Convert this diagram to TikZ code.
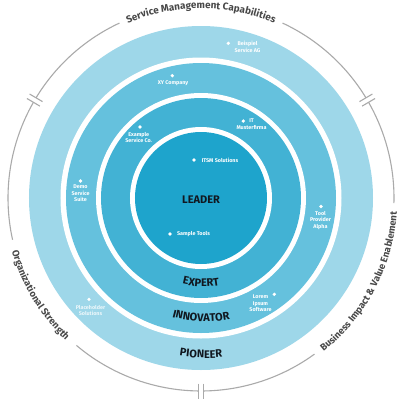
\documentclass[tikz,border=0pt]{standalone}
\usepackage{fontspec}
\setmainfont{Fira Sans}
\usetikzlibrary{decorations.text}
\definecolor{ringP}{RGB}{158,215,233}
\definecolor{ringI}{RGB}{101,193,221}
\definecolor{ringE}{RGB}{66,178,212}
\definecolor{ringL}{RGB}{30,164,204}
\definecolor{arcgray}{RGB}{170,170,170}
\definecolor{txtgray}{RGB}{72,72,72}
\definecolor{lvl}{RGB}{17,24,32}
\tikzset{
  arcline/.style={draw=arcgray, line width=1.1pt},
  tickline/.style={draw=arcgray, line width=1.1pt},
  dotmark/.style={circle, fill=white, inner sep=0pt, minimum size=3.6pt},
  company/.style={text=white, font=\fontsize{5.4}{6.5}\selectfont\bfseries, align=center, inner sep=0pt},
  levellabel/.style={text=lvl, font=\fontsize{11}{12}\selectfont\bfseries, inner sep=0pt},
}
\begin{document}
\begin{tikzpicture}[x=1pt,y=1pt]
\useasboundingbox (-201,-202) rectangle (201,198);
\fill[white] (-201,-202) rectangle (201,198);
% rings
\fill[ringP] (0,0) circle[radius=172];
\fill[white] (0,0) circle[radius=140.5];
\fill[ringI] (0,0) circle[radius=135];
\fill[white] (0,0) circle[radius=105];
\fill[ringE] (0,0) circle[radius=100];
\fill[white] (0,0) circle[radius=71];
\fill[ringL] (0,0) circle[radius=66];
% outer gray arcs
\draw[arcline] (31.3:193) arc[start angle=31.3, end angle=65, radius=193];
\draw[arcline] (115:193) arc[start angle=115, end angle=148.7, radius=193];
\draw[arcline] (150.3:193) arc[start angle=150.3, end angle=192.5, radius=193];
\draw[arcline] (229.8:193) arc[start angle=229.8, end angle=269.2, radius=193];
\draw[arcline] (270.8:193) arc[start angle=270.8, end angle=306, radius=193];
\draw[arcline] (-1.5:193) arc[start angle=-1.5, end angle=29.7, radius=193];
% break ticks
\foreach \a in {30.5,149.5,270}{
  \begin{scope}[rotate=\a]
    \draw[tickline] (185.5,2.6) -- (200.5,2.6);
    \draw[tickline] (185.5,-2.6) -- (200.5,-2.6);
  \end{scope}
}
% arc texts
\path[decorate, decoration={text along path, text align=center, text color=txtgray,
  text={|\fontsize{9.9}{11}\selectfont\bfseries|Service Management Capabilities}}]
  (115:189.5) arc[start angle=115, end angle=65, radius=189.5];
\path[decorate, decoration={text along path, text align=center, text color=txtgray,
  text={|\fontsize{9.6}{11}\selectfont\bfseries|Organizational Strength}}]
  (192.5:196.5) arc[start angle=192.5, end angle=229.8, radius=196.5];
\path[decorate, decoration={text along path, text align=center, text color=txtgray,
  text={|\fontsize{9.6}{11}\selectfont\bfseries|Business Impact {\&} Value Enablement}}]
  (-54:196.5) arc[start angle=-54, end angle=-1.5, radius=196.5];
% level labels
\node[levellabel] (leader) at (0,-2) {LEADER};
\path[decorate, rotate around={-2:(0,-85)}, decoration={text along path, text align=center, text color=lvl,
  text={|\fontsize{11}{12}\selectfont\bfseries|EXPERT}}]
  (240:88.5) arc[start angle=240, end angle=300, radius=88.5];
\path[decorate, rotate around={-2:(0,-120)}, decoration={text along path, text align=center, text color=lvl,
  text={|\fontsize{11}{12}\selectfont\bfseries|INNOVATOR}}]
  (240:123.5) arc[start angle=240, end angle=300, radius=123.5];
\path[decorate, rotate around={-2:(0,-156)}, decoration={text along path, text align=center, text color=lvl,
  text={|\fontsize{11}{12}\selectfont\bfseries|PIONEER}}]
  (245:160) arc[start angle=245, end angle=295, radius=160];
% companies
\node[dotmark] (d1) at (27.3,154.7) {};
\node[company] (c1) at (46.5,151.3) {Beispiel\\Service AG};
\node[dotmark] (d2) at (-28.7,122.3) {};
\node[company] (c2) at (-28,115) {XY Company};
\node[dotmark] (d3) at (42.3,77) {};
\node[company] (c3) at (50.5,74) {IT\\Musterfirma};
\node[dotmark] (d4) at (-61,71) {};
\node[company] (c4) at (-62.3,60.3) {Example\\Service Co.};
\node[dotmark] (d5) at (-120.5,17) {};
\node[company] (c5) at (-120.5,4.5) {Demo\\Service\\Suite};
\node[dotmark] (d6) at (-7,38) {};
\node[company] (c6) at (19,38) {ITSM Solutions};
\node[dotmark] (d7) at (-31,-36) {};
\node[company] (c7) at (-7.5,-36) {Sample Tools};
\node[dotmark] (d8) at (120,-8.5) {};
\node[company] (c8) at (119.5,-22.5) {Tool\\Provider\\Alpha};
\node[dotmark] (d9) at (73.3,-96.3) {};
\node[company] (c9) at (59.5,-105.3) {Lorem\\Ipsum\\Software};
\node[dotmark] (d10) at (-112,-101.3) {};
\node[company, text opacity=0.8] (c10) at (-110.5,-112.3) {Placeholder\\Solutions};
\end{tikzpicture}
\end{document}
